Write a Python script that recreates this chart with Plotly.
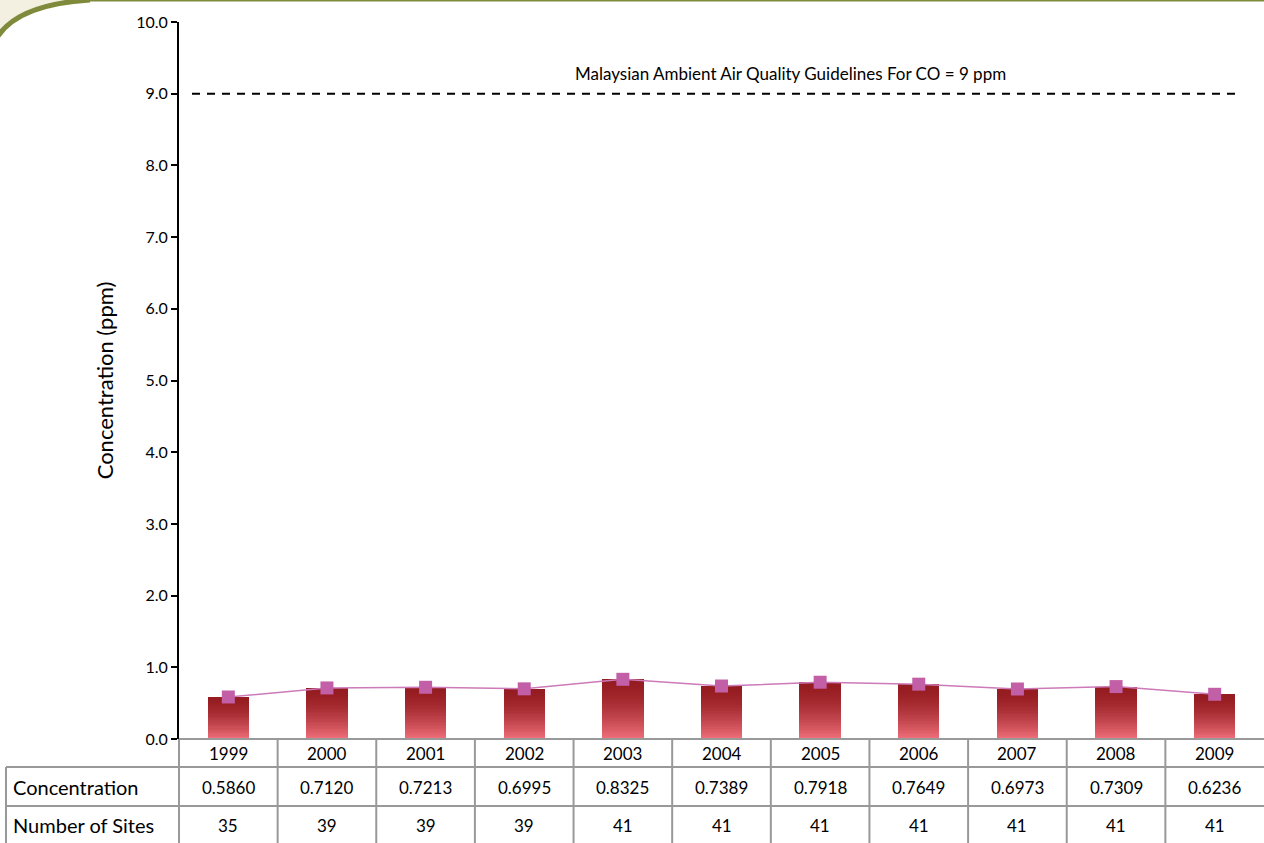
import plotly.graph_objects as go

years = ["1999", "2000", "2001", "2002", "2003", "2004", "2005", "2006", "2007", "2008", "2009"]
concentration = [0.5860, 0.7120, 0.7213, 0.6995, 0.8325, 0.7389, 0.7918, 0.7649, 0.6973, 0.7309, 0.6236]
sites = [35, 39, 39, 39, 41, 41, 41, 41, 41, 41, 41]
guideline = 9.0
y_ticks = [0, 1, 2, 3, 4, 5, 6, 7, 8, 9, 10]

W, H = 1264, 843
L, T, B = 179, 22, 104
R = 0
PW = W - L - R
PH = H - T - B
FONT = "Lato, 'Open Sans', sans-serif"


def px(xp):
    return (xp - L) / PW


def py(yp):
    return (H - B - yp) / PH


fig = go.Figure()

# gradient bars via overlaid layers
top = (0x95, 0x1c, 0x20)
bot = (0xef, 0x6e, 0x79)
N = 36
for k in range(N):
    f = 1 - k / N
    t = (k / (N - 1)) ** 1.6
    c = tuple(int(top[i] + (bot[i] - top[i]) * t) for i in range(3))
    fig.add_trace(go.Bar(
        x=years, y=[v * f for v in concentration],
        marker=dict(color="rgb(%d,%d,%d)" % c, line=dict(width=0)),
        width=0.42, hoverinfo="skip", showlegend=False,
    ))

fig.add_trace(go.Scatter(
    x=years, y=concentration, mode="lines+markers",
    line=dict(color="#cc7ab8", width=1.5),
    marker=dict(symbol="square", size=13, color="#c35fa6"),
    showlegend=False,
))

shapes = []
ann = []

# guideline dashed line
shapes.append(dict(type="line", xref="paper", yref="y", x0=px(192), x1=px(1242),
                   y0=guideline, y1=guideline, line=dict(color="black", width=2, dash="8px,7px")))
ann.append(dict(xref="paper", yref="y", x=px(790), y=guideline, yshift=20,
                text="Malaysian Ambient Air Quality Guidelines For CO = 9 ppm",
                showarrow=False, font=dict(size=17, color="black", family=FONT)))

# table
grid = "#999999"
row_lines = [767, 806]
for yy in row_lines:
    shapes.append(dict(type="line", xref="paper", yref="paper", x0=px(6), x1=px(W),
                       y0=py(yy), y1=py(yy), line=dict(color=grid, width=2)))
shapes.append(dict(type="line", xref="paper", yref="paper", x0=px(6), x1=px(6),
                   y0=py(767), y1=py(H), line=dict(color=grid, width=2)))
shapes.append(dict(type="line", xref="paper", yref="paper", x0=0, x1=0,
                   y0=py(739), y1=py(H), line=dict(color=grid, width=2)))
for i in range(1, len(years)):
    shapes.append(dict(type="line", xref="x", yref="paper", x0=i - 0.5, x1=i - 0.5,
                       y0=py(739), y1=py(H), line=dict(color=grid, width=2)))
shapes.append(dict(type="line", xref="paper", yref="paper", x0=0, x1=1,
                   y0=0, y1=0, line=dict(color=grid, width=2)))

cell_font = dict(size=17, color="black", family=FONT)
for i, y in enumerate(years):
    ann.append(dict(xref="x", yref="paper", x=i, y=py(753), text=y, showarrow=False,
                    xanchor="center", yanchor="middle", font=cell_font))
    ann.append(dict(xref="x", yref="paper", x=i, y=py(787), text="%.4f" % concentration[i],
                    xanchor="center", yanchor="middle", showarrow=False, font=cell_font))
    ann.append(dict(xref="x", yref="paper", x=i, y=py(825), text=str(sites[i]),
                    xanchor="center", yanchor="middle", showarrow=False, font=cell_font))
ann.append(dict(xref="paper", yref="paper", x=px(11), y=py(787), text="Concentration",
                xanchor="left", yanchor="middle", showarrow=False,
                font=dict(size=20, color="black", family=FONT)))
ann.append(dict(xref="paper", yref="paper", x=px(11), y=py(825), text="Number of Sites",
                xanchor="left", yanchor="middle", showarrow=False,
                font=dict(size=20, color="black", family=FONT)))

# top-left decoration
shapes.append(dict(type="path", xref="paper", yref="paper", layer="below",
                   path="M %f,%f L %f,%f Q %f,%f %f,%f Z" % (
                       px(-2), py(-2), px(-2), py(36), px(20), py(4), px(90), py(-2)),
                   fillcolor="#f3efe1", line=dict(width=0)))
shapes.append(dict(type="path", xref="paper", yref="paper",
                   path="M %f,%f Q %f,%f %f,%f" % (
                       px(-2), py(36), px(20), py(4), px(90), py(0)),
                   line=dict(color="#7f8a3a", width=5)))
shapes.append(dict(type="line", xref="paper", yref="paper", x0=px(80), x1=px(W + 2),
                   y0=py(0.5), y1=py(0.5), line=dict(color="#7f8a3a", width=2)))

fig.update_layout(
    width=W, height=H,
    margin=dict(l=L, r=R, t=T, b=B, pad=0),
    paper_bgcolor="white", plot_bgcolor="white",
    barmode="overlay", bargap=0,
    font=dict(family=FONT, color="black"),
    shapes=shapes, annotations=ann,
    xaxis=dict(type="category", range=[-0.5, len(years) - 0.5], showticklabels=False,
               showgrid=False, zeroline=False, ticks="", showline=False, fixedrange=True),
    yaxis=dict(range=[0, 10], tickvals=y_ticks, ticktext=["%.1f" % v for v in y_ticks],
               showgrid=False, zeroline=False, showline=True, linecolor="black", linewidth=2,
               ticks="outside", ticklen=6, tickwidth=1.5, tickcolor="black",
               tickfont=dict(size=16, color="black", family=FONT),
               title=dict(text="Concentration (ppm)", font=dict(size=22, color="black", family=FONT),
                          standoff=16)),
)

fig.write_html("out.html")
